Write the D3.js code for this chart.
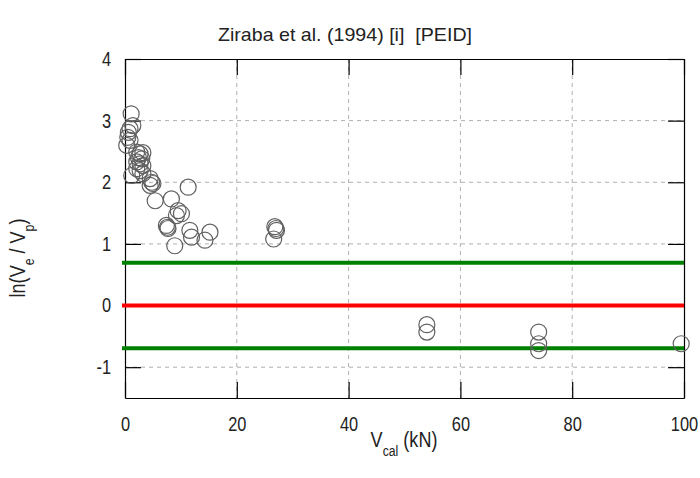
<!DOCTYPE html>
<html><head><meta charset="utf-8">
<script src="https://cdn.jsdelivr.net/npm/d3@7"></script>
<style>body{margin:0;background:#fff}svg{display:block}text{font-family:"Liberation Sans",Arial,sans-serif;fill:#222}</style>
</head><body><svg id="c" width="700" height="478"></svg>
<script>
const vcal = [1.1,1.4,0.9,0.6,0.5,0.9,0.3,2.1,2.7,3.2,2.4,3.0,2.1,2.7,3.2,2.1,2.7,1.2,3.2,4.5,4.8,5.0,4.5,11.3,5.4,8.3,9.5,10.1,9.2,7.4,7.7,7.6,11.6,15.2,11.9,14.3,8.9,
  26.8,27.0,27.1,26.6,54.0,54.0,74.0,74.0,74.0,99.5];
const lnRatio = [3.11,2.92,2.87,2.81,2.73,2.68,2.60,2.49,2.46,2.48,2.40,2.38,2.33,2.30,2.27,2.22,2.19,2.11,2.14,2.06,2.00,1.98,1.95,1.92,1.70,1.73,1.54,1.49,1.46,1.30,1.25,1.27,1.22,1.19,1.11,1.06,0.97,
  1.28,1.25,1.22,1.08,-0.31,-0.43,-0.43,-0.62,-0.73,-0.62];
const xTicks = [0,20,40,60,80,100];
const yTicks = [-1,0,1,2,3,4];
const refLines = [{v:Math.log(2),c:"#008000"},{v:0,c:"#ff0000"},{v:-Math.log(2),c:"#008000"}];

const SX = 0.82; // narrow-font emulation
const svg = d3.select("#c");
const L=125,R=684,T=59,B=398;
const x = d3.scaleLinear().domain([0,100]).range([L,R]);
const y = d3.scaleLinear().domain([-1.5,4]).range([B,T]);

// grid
const g = svg.append("g");
g.selectAll(".gx").data(xTicks.slice(1,-1)).enter().append("line")
 .attr("x1",d=>x(d)).attr("x2",d=>x(d)).attr("y1",T).attr("y2",B)
 .attr("stroke","#b0b0b0").attr("stroke-dasharray","4,4");
g.selectAll(".gy").data(yTicks.filter(d=>d>-1.5&&d<4)).enter().append("line")
 .attr("x1",L).attr("x2",R).attr("y1",d=>y(d)).attr("y2",d=>y(d))
 .attr("stroke","#b0b0b0").attr("stroke-dasharray","4,4");

// frame with inner ticks
const tl=16;
const fmt = d=>String(d).replace("\u2212","-");
const axB = d3.axisBottom(x).tickValues(xTicks).tickSizeInner(-tl).tickSizeOuter(0).tickPadding(19).tickFormat(fmt);
const axT = d3.axisTop(x).tickValues(xTicks).tickSizeInner(-tl).tickSizeOuter(0).tickFormat("");
const axL = d3.axisLeft(y).tickValues(yTicks).tickSizeInner(-tl).tickSizeOuter(0).tickPadding(0).tickFormat(fmt);
const axR = d3.axisRight(y).tickValues(yTicks).tickSizeInner(-tl).tickSizeOuter(0).tickFormat("");
function style(sel){sel.selectAll("path").attr("stroke","#000").attr("stroke-width",1.2);sel.selectAll("line").attr("stroke","#000").attr("stroke-width",1.2);sel.selectAll("text").attr("font-size",20).attr("font-family","Liberation Sans, Arial, sans-serif").attr("fill","#222");}
const gB = svg.append("g").attr("transform",`translate(0,${B})`).call(axB); style(gB);
gB.selectAll("text").attr("transform",`scale(${SX},1)`);
style(svg.append("g").attr("transform",`translate(0,${T})`).call(axT));
const gL = svg.append("g").attr("transform",`translate(${L},0)`).call(axL); style(gL);
gL.selectAll("text").attr("x",-14/SX).attr("transform",`scale(${SX},1)`);
style(svg.append("g").attr("transform",`translate(${R},0)`).call(axR));

// reference lines
svg.selectAll(".ref").data(refLines).enter().append("line")
 .attr("x1",L-3).attr("x2",R).attr("y1",d=>y(d.v)).attr("y2",d=>y(d.v))
 .attr("stroke",d=>d.c).attr("stroke-width",4);

// points
svg.selectAll(".pt").data(vcal.map((v,i)=>[v,lnRatio[i]])).enter().append("circle")
 .attr("cx",d=>x(d[0])).attr("cy",d=>y(d[1])).attr("r",8)
 .attr("fill","none").attr("stroke","#606060").attr("stroke-width",1.2);

// title & labels
svg.append("text").attr("x",218).attr("y",41).attr("font-size",19)
 .attr("textLength",254).attr("lengthAdjust","spacingAndGlyphs")
 .style("white-space","pre").text("Ziraba et al. (1994) [i]  [PEID]");
const xl = svg.append("text").attr("transform",`translate(404,447) scale(${SX},1)`).attr("text-anchor","middle").attr("font-size",22);
xl.append("tspan").text("V");
xl.append("tspan").attr("font-size",15).attr("dy",9).text("cal");
xl.append("tspan").attr("dy",-9).text(" (kN)");
const yl = svg.append("text").attr("transform",`translate(25,258) rotate(-90) scale(${SX},1)`).attr("text-anchor","middle").attr("font-size",22);
yl.append("tspan").text("ln(V");
yl.append("tspan").attr("font-size",15).attr("dy",9).text("e");
yl.append("tspan").attr("dy",-9).text(" / V");
yl.append("tspan").attr("font-size",15).attr("dy",9).text("p");
yl.append("tspan").attr("dy",-9).text(")");
</script></body></html>
